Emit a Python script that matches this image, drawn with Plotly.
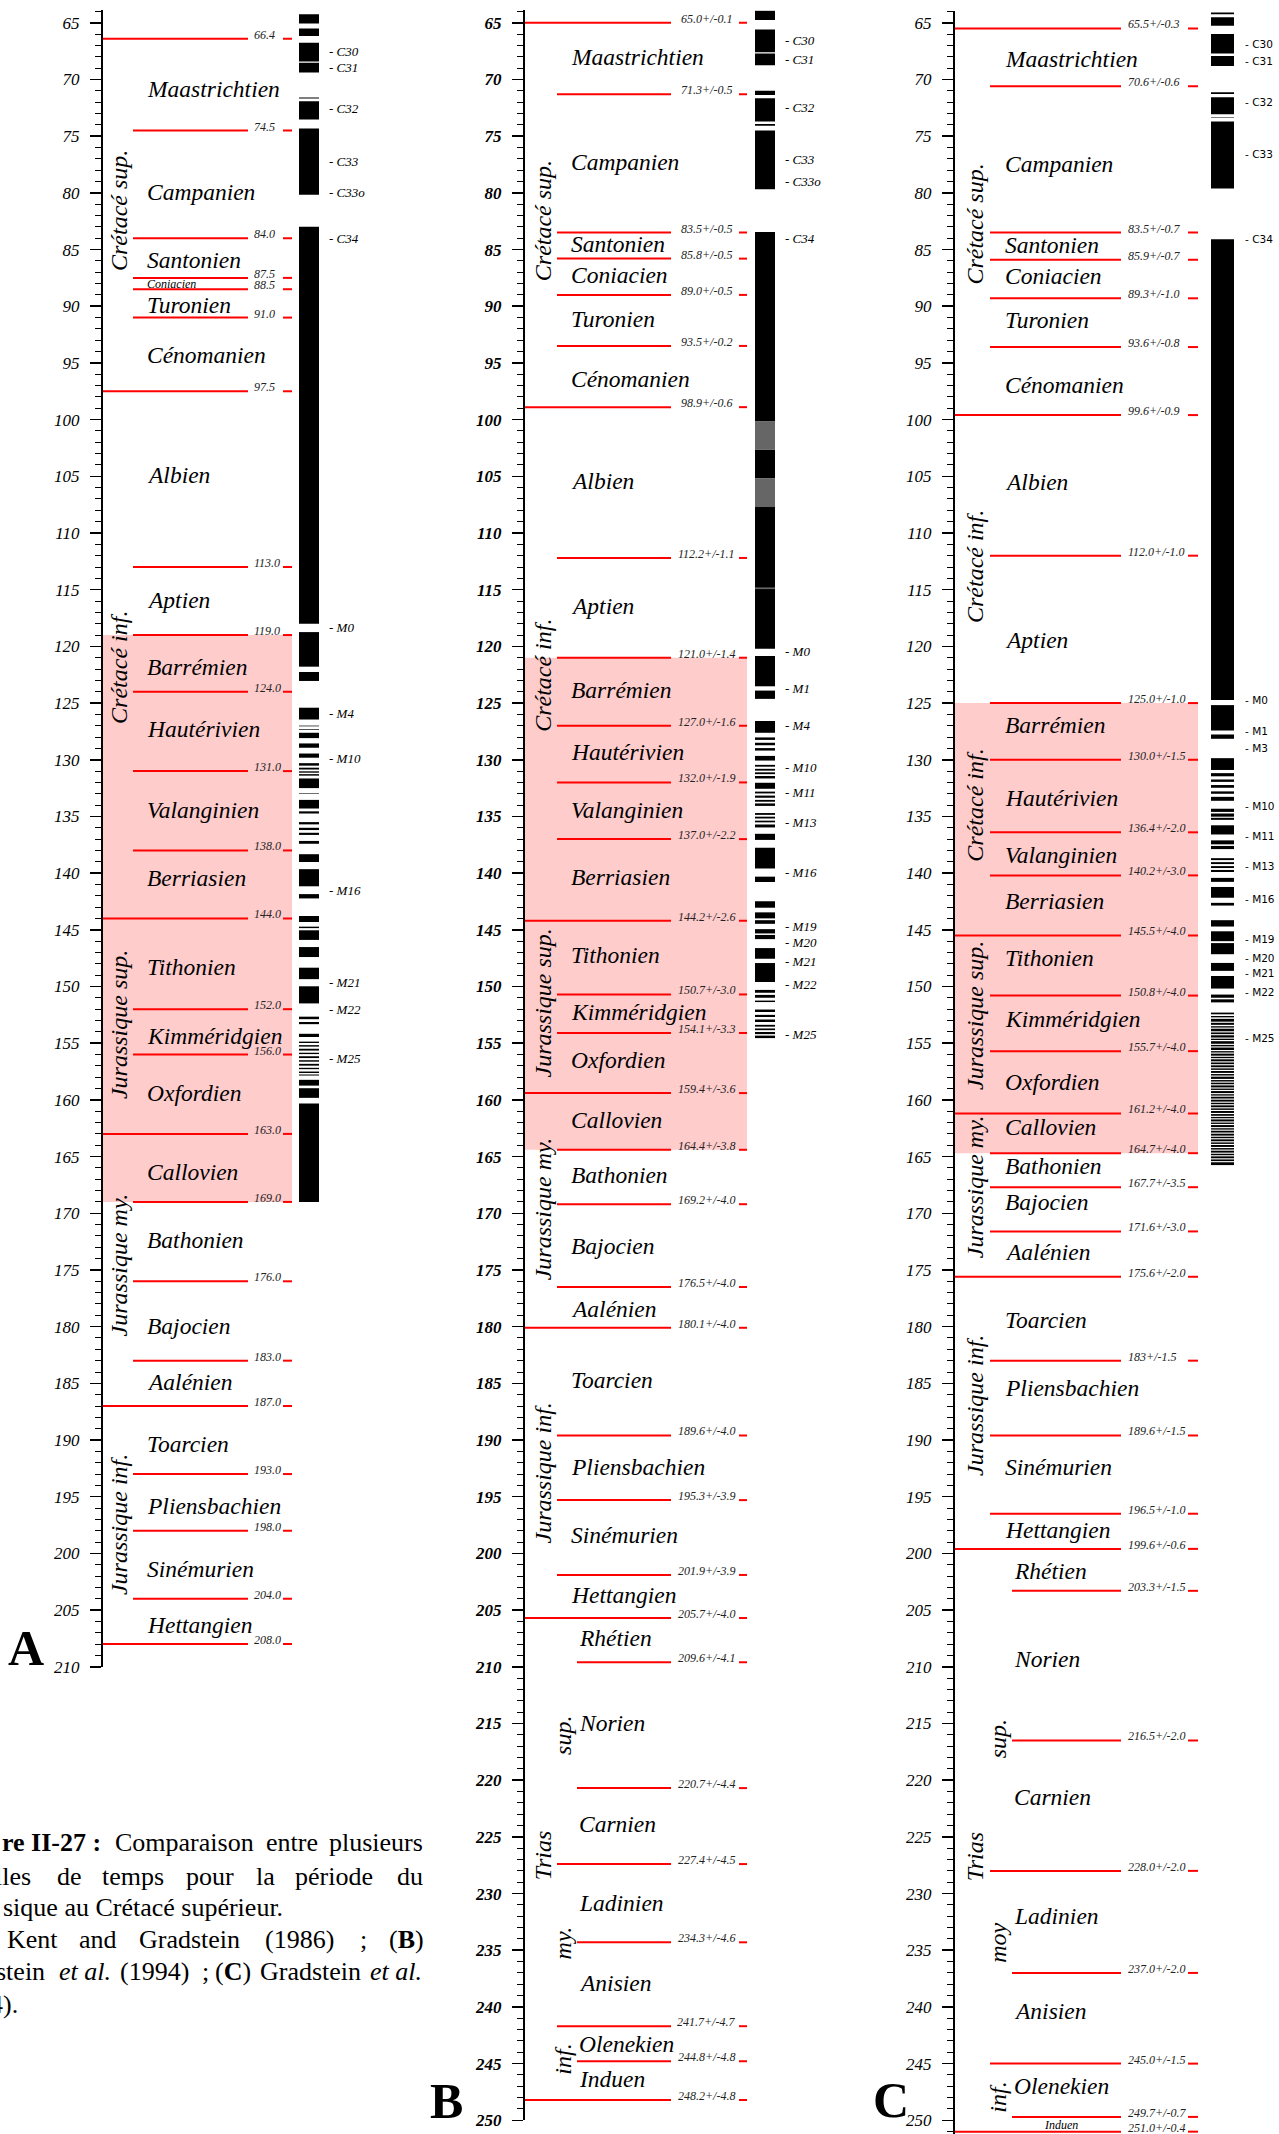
import plotly.graph_objects as go

W, H = 1279, 2134
SERIF = "Liberation Serif"
SANS = "DejaVu Sans"
PINK = "#ffcccc"
RED = "#ff0000"

# ================= Panel A : Kent & Gradstein (1986) =================
A_ages = [66.4, 74.5, 84.0, 87.5, 88.5, 91.0, 97.5, 113.0, 119.0, 124.0, 131.0, 138.0,
          144.0, 152.0, 156.0, 163.0, 169.0, 176.0, 183.0, 187.0, 193.0, 198.0, 204.0, 208.0]
A_labels = ["66.4", "74.5", "84.0", "87.5", "88.5", "91.0", "97.5", "113.0", "119.0", "124.0",
            "131.0", "138.0", "144.0", "152.0", "156.0", "163.0", "169.0", "176.0", "183.0",
            "187.0", "193.0", "198.0", "204.0", "208.0"]
A_epoch_ages = [66.4, 97.5, 144.0, 163.0, 187.0, 208.0]
A_right_ages = []
A_stages = ["Maastrichtien", "Campanien", "Santonien", "Coniacien", "Turonien", "Cénomanien",
            "Albien", "Aptien", "Barrémien", "Hautérivien", "Valanginien", "Berriasien",
            "Tithonien", "Kimméridgien", "Oxfordien", "Callovien", "Bathonien", "Bajocien",
            "Aalénien", "Toarcien", "Pliensbachien", "Sinémurien", "Hettangien"]
A_stage_mid = [70.8, 79.9, 85.9, 88.05, 89.9, 94.3, 104.9, 115.9, 121.8, 127.3, 134.4, 140.45,
               148.3, 154.35, 159.4, 166.4, 172.4, 179.9, 184.9, 190.35, 195.85, 201.4, 206.3]
A_series = ["Crétacé sup.", "Crétacé inf.", "Jurassique sup.", "Jurassique my.", "Jurassique inf."]
A_series_mid = [81.6, 121.9, 153.4, 174.6, 197.5]
A_subs, A_sub_mid = [], []
A_chrons = ["C30", "C31", "C32", "C33", "C33o", "C34", "M0", "M4", "M10", "M16", "M21", "M22", "M25"]
A_chron_age = [67.56, 68.9, 72.6, 77.2, 79.97, 84.0, 118.3, 125.9, 129.9, 141.5, 149.65, 152.05, 156.35]
A_norm_top = [64.25, 65.5, 66.77, 68.53, 71.59, 71.93, 74.33, 83.0, 118.74, 122.26, 125.41, 126.99,
              127.3, 127.62, 128.56, 129.45, 130.3, 130.7, 131.02, 131.27, 131.65, 132.97, 133.54,
              134.55, 135.5, 136.0, 136.44, 137.16, 138.33, 139.65, 141.85, 143.78, 144.72, 145.04,
              146.52, 148.34, 149.98, 152.66, 153.13, 154.17, 154.86, 155.17, 155.49, 155.84,
              156.15, 156.5, 156.82, 157.17, 157.5, 157.76, 158.23, 158.97, 160.32]
A_norm_base = [65.07, 66.17, 68.41, 69.38, 71.68, 73.54, 80.16, 118.0, 121.79, 123.05, 126.45, 127.05,
               127.36, 128.09, 128.94, 129.82, 130.52, 130.86, 131.14, 131.4, 132.5, 133.02, 134.3,
               134.74, 135.7, 136.2, 136.63, 137.41, 139.02, 141.16, 142.23, 144.31, 144.85, 145.89,
               147.4, 149.35, 151.49, 152.88, 153.32, 154.45, 154.98, 155.3, 155.65, 155.96,
               156.31, 156.63, 156.98, 157.29, 157.63, 157.85, 158.74, 159.82, 169.0]
A_gray_top, A_gray_base = [], []
A_band = [119.0, 169.0]

# ================= Panel B : Gradstein et al. (1994) =================
B_ages = [65.0, 71.3, 83.5, 85.8, 89.0, 93.5, 98.9, 112.2, 121.0, 127.0, 132.0, 137.0, 144.2,
          150.7, 154.1, 159.4, 164.4, 169.2, 176.5, 180.1, 189.6, 195.3, 201.9, 205.7, 209.6,
          220.7, 227.4, 234.3, 241.7, 244.8, 248.2]
B_err = [0.1, 0.5, 0.5, 0.5, 0.5, 0.2, 0.6, 1.1, 1.4, 1.6, 1.9, 2.2, 2.6, 3.0, 3.3, 3.6, 3.8,
         4.0, 4.0, 4.0, 4.0, 3.9, 3.9, 4.0, 4.1, 4.4, 4.5, 4.6, 4.7, 4.8, 4.8]
B_labels = [f"{a:.1f}+/-{e:.1f}" for a, e in zip(B_ages, B_err)]
B_epoch_ages = [65.0, 98.9, 144.2, 159.4, 180.1, 205.7, 248.2]
B_right_ages = [209.6, 220.7, 234.3, 244.8]
B_stages = ["Maastrichtien", "Campanien", "Santonien", "Coniacien", "Turonien", "Cénomanien",
            "Albien", "Aptien", "Barrémien", "Hautérivien", "Valanginien", "Berriasien",
            "Tithonien", "Kimméridgien", "Oxfordien", "Callovien", "Bathonien", "Bajocien",
            "Aalénien", "Toarcien", "Pliensbachien", "Sinémurien", "Hettangien", "Rhétien",
            "Norien", "Carnien", "Ladinien", "Anisien", "Olenekien", "Induen"]
B_stage_mid = [68.0, 77.3, 84.55, 87.25, 91.1, 96.4, 105.45, 116.45, 123.85, 129.35, 134.4, 140.35,
               147.25, 152.25, 156.5, 161.75, 166.65, 172.9, 178.4, 184.7, 192.35, 198.4, 203.65,
               207.45, 215.0, 223.85, 230.8, 237.9, 243.25, 246.4]
B_series = ["Crétacé sup.", "Crétacé inf.", "Jurassique sup.", "Jurassique my.", "Jurassique inf.", "Trias"]
B_series_mid = [82.5, 122.6, 151.5, 169.65, 192.95, 226.7]
B_subs = ["sup.", "my.", "inf."]
B_sub_mid = [216.1, 234.4, 244.65]
B_chrons = ["C30", "C31", "C32", "C33", "C33o", "C34", "M0", "M1", "M4", "M10", "M11", "M13",
            "M16", "M19", "M20", "M21", "M22", "M25"]
B_chron_age = [66.6, 68.2, 72.5, 77.1, 79.0, 84.0, 120.45, 123.7, 127.0, 130.7, 132.9, 135.55,
               139.9, 144.7, 146.15, 147.8, 149.85, 154.25]
B_norm_top = [63.93, 65.6, 67.71, 70.99, 71.65, 73.92, 74.49, 83.46, 102.67, 107.71, 120.85, 123.9,
              126.58, 128.03, 128.5, 128.97, 129.66, 130.45, 130.8, 131.11, 131.43, 132.03, 132.81,
              133.16, 133.54, 133.85, 134.7, 135.02, 135.37, 135.71, 136.53, 137.76, 140.31, 142.48,
              143.46, 144.15, 144.94, 145.45, 146.61, 147.93, 150.3, 150.74, 151.24, 152.03, 152.5,
              152.91, 153.38, 153.7, 154.01, 154.33]
B_norm_base = [64.75, 67.59, 68.75, 71.37, 73.7, 74.08, 79.68, 100.16, 105.19, 120.22, 123.52, 124.63,
               127.62, 128.25, 128.72, 129.19, 130.07, 130.61, 130.96, 131.27, 131.65, 132.56, 132.97,
               133.35, 133.7, 134.07, 134.86, 135.18, 135.52, 135.97, 137.07, 139.59, 140.78, 143.05,
               143.99, 144.47, 145.32, 145.82, 147.55, 149.6, 150.55, 150.99, 151.37, 152.25, 152.69,
               153.13, 153.54, 153.85, 154.2, 154.55]
B_gray_top = [100.16, 105.19, 114.8]
B_gray_base = [102.67, 107.71, 114.95]
B_band = [121.0, 164.4]

# ================= Panel C : Gradstein et al. (2004) =================
C_ages = [65.5, 70.6, 83.5, 85.9, 89.3, 93.6, 99.6, 112.0, 125.0, 130.0, 136.4, 140.2, 145.5,
          150.8, 155.7, 161.2, 164.7, 167.7, 171.6, 175.6, 183.0, 189.6, 196.5, 199.6, 203.3,
          216.5, 228.0, 237.0, 245.0, 249.7, 251.0]
C_labels = ["65.5+/-0.3", "70.6+/-0.6", "83.5+/-0.7", "85.9+/-0.7", "89.3+/-1.0", "93.6+/-0.8",
            "99.6+/-0.9", "112.0+/-1.0", "125.0+/-1.0", "130.0+/-1.5", "136.4+/-2.0", "140.2+/-3.0",
            "145.5+/-4.0", "150.8+/-4.0", "155.7+/-4.0", "161.2+/-4.0", "164.7+/-4.0", "167.7+/-3.5",
            "171.6+/-3.0", "175.6+/-2.0", "183+/-1.5", "189.6+/-1.5", "196.5+/-1.0", "199.6+/-0.6",
            "203.3+/-1.5", "216.5+/-2.0", "228.0+/-2.0", "237.0+/-2.0", "245.0+/-1.5", "249.7+/-0.7",
            "251.0+/-0.4"]
C_epoch_ages = [65.5, 99.6, 145.5, 161.2, 175.6, 199.6, 251.0]
C_right_ages = [203.3, 216.5, 237.0, 249.7]
C_stages = ["Maastrichtien", "Campanien", "Santonien", "Coniacien", "Turonien", "Cénomanien",
            "Albien", "Aptien", "Barrémien", "Hautérivien", "Valanginien", "Berriasien",
            "Tithonien", "Kimméridgien", "Oxfordien", "Callovien", "Bathonien", "Bajocien",
            "Aalénien", "Toarcien", "Pliensbachien", "Sinémurien", "Hettangien", "Rhétien",
            "Norien", "Carnien", "Ladinien", "Anisien", "Olenekien", "Induen"]
C_stage_mid = [68.15, 77.45, 84.6, 87.35, 91.2, 96.95, 105.5, 119.45, 126.95, 133.4, 138.4, 142.45,
               147.45, 152.9, 158.4, 162.4, 165.85, 169.0, 173.4, 179.4, 185.45, 192.4, 197.9,
               201.55, 209.35, 221.45, 232.0, 240.4, 247.0, 250.38]
C_series = ["Crétacé sup.", "Crétacé inf.", "Crétacé inf.", "Jurassique sup.", "Jurassique my.",
            "Jurassique inf.", "Trias"]
C_series_mid = [82.8, 113.0, 134.05, 152.6, 167.7, 187.0, 226.8]
C_subs = ["sup.", "moy", "inf."]
C_sub_mid = [216.4, 234.35, 248.0]
C_chrons = ["C30", "C31", "C32", "C33", "C34", "M0", "M1", "M3", "M10", "M11", "M13", "M16",
            "M19", "M20", "M21", "M22", "M25"]
C_chron_age = [66.83, 68.34, 72.0, 76.56, 84.03, 124.7, 127.5, 129.0, 134.1, 136.7, 139.4, 142.3,
               145.8, 147.5, 148.8, 150.5, 154.5]
C_norm_top = [64.09, 64.5, 65.98, 67.93, 71.12, 71.56, 73.32, 73.7, 84.09, 125.18, 127.77, 129.86,
              131.18, 131.74, 132.23, 132.79, 133.27, 134.32, 134.74, 135.12, 135.78, 137.11, 137.6,
              138.68, 139.03, 139.38, 139.72, 140.42, 141.22, 142.62, 144.15, 145.13, 146.17, 147.92,
              149.07, 150.71, 151.13, 152.3, 152.6, 152.85, 153.2, 153.5, 153.72, 154.05, 154.3,
              154.6, 154.82, 155.15, 155.38, 155.7, 155.92, 156.2, 156.42, 156.7, 156.95, 157.22,
              157.45, 157.72, 157.95, 158.25, 158.48, 158.72, 159.0, 159.22, 159.5, 159.72, 159.98,
              160.25, 160.48, 160.75, 160.98, 161.25, 161.5, 161.72, 162.0, 162.22, 162.5, 162.72,
              162.98, 163.25, 163.48, 163.75, 163.98, 164.25, 164.48, 164.75, 164.98, 165.25, 165.5]
C_norm_base = [64.25, 65.26, 67.71, 68.82, 71.27, 73.07, 73.38, 79.62, 124.73, 127.42, 128.15, 130.9,
               131.46, 131.95, 132.47, 133.0, 133.62, 134.6, 135.02, 135.3, 136.59, 137.46, 137.88,
               138.85, 139.2, 139.55, 139.9, 140.77, 142.17, 142.86, 144.71, 146.0, 147.15, 148.62,
               150.18, 150.99, 151.4, 152.45, 152.72, 153.1, 153.38, 153.62, 153.95, 154.2, 154.5,
               154.72, 155.05, 155.28, 155.6, 155.82, 156.1, 156.32, 156.6, 156.85, 157.12, 157.35,
               157.62, 157.85, 158.15, 158.38, 158.62, 158.9, 159.12, 159.4, 159.62, 159.88, 160.15,
               160.38, 160.65, 160.88, 161.15, 161.4, 161.62, 161.9, 162.12, 162.4, 162.62, 162.88,
               163.15, 163.38, 163.65, 163.88, 164.15, 164.38, 164.65, 164.88, 165.15, 165.4, 165.75]
C_gray_top, C_gray_base = [], []
C_band = [125.0, 164.7]

# ================= geometry =================
# vertical stretch compensating the ~0.45 % vertical squeeze observed in the photographed page
KY = 1.0045
H_FIG = 2144
Y0_PX, PX_PER_MA = 22.8, 11.34


def ypx(ma):
    return (Y0_PX + (ma - 65.0) * PX_PER_MA) * KY


def yfrac(ma):
    return min(1.0, max(0.0, 1.0 - ypx(ma) / H_FIG))


def ypaper(py):
    return 1.0 - py * KY / H_FIG


C_BOTTOM = 65.0 + (H_FIG / KY - Y0_PX) / PX_PER_MA

GEOM = {
    "A": dict(yname="y", axis=101, short=133, right=133, end=248, lab_x=252, lab_anchor="left",
              d0=283, d1=292, c0=299, c1=319, chron_x=327, stage_x=145, trias_x=145, vert_x=119,
              sub_x=139, top=63.9, bot=210.0, bold=False, chron_sans=False),
    "B": dict(yname="y2", axis=524, short=557, right=577, end=671, lab_x=706, lab_anchor="center",
              d0=739, d1=747, c0=755, c1=775, chron_x=783, stage_x=569, trias_x=577, vert_x=543,
              sub_x=563, top=63.9, bot=250.0, bold=True, chron_sans=False),
    "C": dict(yname="y3", axis=953, short=990, right=1012, end=1121, lab_x=1126, lab_anchor="left",
              d0=1188, d1=1198, c0=1211, c1=1234, chron_x=1243, stage_x=1003, trias_x=1012, vert_x=975,
              sub_x=998, top=64.0, bot=C_BOTTOM, bold=False, chron_sans=True),
}

PANELS = {
    "A": dict(ages=A_ages, labels=A_labels, epoch=A_epoch_ages, right=A_right_ages, stages=A_stages,
              stage_mid=A_stage_mid, series=A_series, series_mid=A_series_mid, subs=A_subs,
              sub_mid=A_sub_mid, chrons=A_chrons, chron_age=A_chron_age, ntop=A_norm_top,
              nbase=A_norm_base, gtop=A_gray_top, gbase=A_gray_base, band=A_band),
    "B": dict(ages=B_ages, labels=B_labels, epoch=B_epoch_ages, right=B_right_ages, stages=B_stages,
              stage_mid=B_stage_mid, series=B_series, series_mid=B_series_mid, subs=B_subs,
              sub_mid=B_sub_mid, chrons=B_chrons, chron_age=B_chron_age, ntop=B_norm_top,
              nbase=B_norm_base, gtop=B_gray_top, gbase=B_gray_base, band=B_band),
    "C": dict(ages=C_ages, labels=C_labels, epoch=C_epoch_ages, right=C_right_ages, stages=C_stages,
              stage_mid=C_stage_mid, series=C_series, series_mid=C_series_mid, subs=C_subs,
              sub_mid=C_sub_mid, chrons=C_chrons, chron_age=C_chron_age, ntop=C_norm_top,
              nbase=C_norm_base, gtop=C_gray_top, gbase=C_gray_base, band=C_band),
}

TRIAS_STAGES = {"Rhétien", "Norien", "Carnien", "Ladinien", "Anisien", "Olenekien", "Induen"}

fig = go.Figure()
annotations = []
shapes = []
layout_axes = {}

for key in ["A", "B", "C"]:
    g = GEOM[key]
    d = PANELS[key]
    yn = g["yname"]
    axname = "yaxis" if yn == "y" else "yaxis" + yn[1:]

    layout_axes[axname] = dict(
        domain=[yfrac(g["bot"]), yfrac(g["top"])], range=[g["bot"], g["top"]],
        anchor="free", position=g["axis"] / W, side="left",
        showline=True, linecolor="black", linewidth=2 if g["bold"] else 1.5,
        ticks="outside", ticklen=11, tickwidth=1.5, tickcolor="black",
        tick0=65, dtick=5,
        minor=dict(ticks="outside", tick0=65, dtick=1, ticklen=6, tickwidth=1, tickcolor="black"),
        tickfont=dict(family=SERIF, size=17, style="italic",
                      weight="bold" if g["bold"] else "normal", color="black"),
        ticklabelstandoff=7, showgrid=False, zeroline=False, fixedrange=True,
    )

    # pink band
    shapes.append(dict(type="rect", xref="x", yref=yn, x0=g["axis"], x1=g["d1"],
                       y0=d["band"][0], y1=d["band"][1], fillcolor=PINK,
                       line=dict(width=0), layer="below"))

    # magnetic polarity column
    cx = (g["c0"] + g["c1"]) / 2
    cw = g["c1"] - g["c0"]
    fig.add_trace(go.Bar(x=[cx] * len(d["ntop"]), y=[b - t for t, b in zip(d["ntop"], d["nbase"])],
                         base=d["ntop"], width=cw, marker=dict(color="black", line=dict(width=0)),
                         xaxis="x", yaxis=yn, hoverinfo="skip", showlegend=False))
    if d["gtop"]:
        fig.add_trace(go.Bar(x=[cx] * len(d["gtop"]), y=[b - t for t, b in zip(d["gtop"], d["gbase"])],
                             base=d["gtop"], width=cw, marker=dict(color="#666666", line=dict(width=0)),
                             xaxis="x", yaxis=yn, hoverinfo="skip", showlegend=False))

    # boundaries (red lines + dashes)
    xs, ys = [], []
    for a in d["ages"]:
        if a in d["epoch"]:
            x0 = g["axis"]
        elif a in d["right"]:
            x0 = g["right"]
        else:
            x0 = g["short"]
        xs += [x0, g["end"], None, g["d0"], g["d1"], None]
        ys += [a, a, None, a, a, None]
    fig.add_trace(go.Scatter(x=xs, y=ys, mode="lines", line=dict(color=RED, width=2),
                             xaxis="x", yaxis=yn, hoverinfo="skip", showlegend=False))

    # boundary value labels
    for a, lab in zip(d["ages"], d["labels"]):
        annotations.append(dict(x=g["lab_x"], y=a, xref="x", yref=yn, text=lab, showarrow=False,
                                xanchor=g["lab_anchor"], yanchor="middle", yshift=4,
                                font=dict(family=SERIF, size=12, style="italic", color="#222222")))

    # stage names
    for name, m in zip(d["stages"], d["stage_mid"]):
        size = 23.5
        x = g["trias_x"] if name in TRIAS_STAGES else g["stage_x"]
        if key == "A" and name == "Coniacien":
            size = 12
        if key == "C" and name == "Induen":
            size = 12
            x = 1042
        annotations.append(dict(x=x, y=m, xref="x", yref=yn, text=name, showarrow=False,
                                xanchor="left", yanchor="middle",
                                font=dict(family=SERIF, size=size, style="italic", color="black")))

    # series names (vertical)
    for name, m in zip(d["series"], d["series_mid"]):
        annotations.append(dict(x=g["vert_x"], y=m, xref="x", yref=yn, text=name, showarrow=False,
                                textangle=-90, xanchor="center", yanchor="middle",
                                font=dict(family=SERIF, size=24, style="italic", color="black")))
    for name, m in zip(d["subs"], d["sub_mid"]):
        annotations.append(dict(x=g["sub_x"], y=m, xref="x", yref=yn, text=name, showarrow=False,
                                textangle=-90, xanchor="center", yanchor="middle",
                                font=dict(family=SERIF, size=24, style="italic", color="black")))

    # chron labels
    for name, m in zip(d["chrons"], d["chron_age"]):
        if g["chron_sans"]:
            f = dict(family=SANS, size=10.5, color="black")
        else:
            f = dict(family=SERIF, size=13, style="italic", color="black")
        annotations.append(dict(x=g["chron_x"], y=m, xref="x", yref=yn, text="- " + name,
                                showarrow=False, xanchor="left", yanchor="middle", font=f))

# panel letters
for letter, px, py in [("A", 26, 1648), ("B", 446, 2101), ("C", 891, 2100)]:
    annotations.append(dict(x=px / W, y=ypaper(py), xref="paper", yref="paper", text=f"<b>{letter}</b>",
                            showarrow=False, xanchor="center", yanchor="middle",
                            font=dict(family=SERIF, size=50, color="black")))

# caption (cropped at the left edge, justified lines): (text, x, anchor)
caption = [
    (1843, [("<b>re II-27 :</b>", 103, "right"), ("Comparaison", 113, "left"), ("entre", 264, "left"),
            ("plusieurs", 327, "left")]),
    (1877, [("lles", 33, "right"), ("de", 55, "left"), ("temps", 100, "left"), ("pour", 184, "left"),
            ("la", 254, "left"), ("période", 293, "left"), ("du", 395, "left")]),
    (1908, [("sique au Crétacé supérieur.", 285, "right")]),
    (1940, [("Kent", 5, "left"), ("and", 77, "left"), ("Gradstein", 137, "left"), ("(1986)", 263, "left"),
            (";", 358, "left"), ("(<b>B</b>)", 387, "left")]),
    (1972, [("stein", 47, "right"), ("<i>et al.</i>", 57, "left"), ("(1994)", 118, "left"),
            (";", 200, "left"), ("(<b>C</b>)", 213, "left"), ("Gradstein", 258, "left"),
            ("<i>et al.</i>", 368, "left")]),
    (2005, [("4).", 20, "right")]),
]
for py, words in caption:
    for txt, px, anc in words:
        annotations.append(dict(x=px / W, y=ypaper(py), xref="paper", yref="paper", text=txt,
                                showarrow=False, xanchor=anc, yanchor="middle",
                                font=dict(family=SERIF, size=26, color="black")))

fig.update_layout(
    width=W, height=H_FIG, autosize=False,
    margin=dict(l=0, r=0, t=0, b=0, pad=0),
    paper_bgcolor="white", plot_bgcolor="rgba(0,0,0,0)",
    barmode="overlay", showlegend=False, hovermode=False,
    xaxis=dict(range=[0, W], domain=[0, 1], visible=False, fixedrange=True),
    annotations=annotations, shapes=shapes,
    **layout_axes,
)

PAGE_CSS_JS = (
    "var s=document.createElement('style');"
    "s.textContent='html,body{margin:0;padding:0;overflow:hidden;}';"
    "document.head.appendChild(s);"
)
fig.write_html("out.html", config={"displayModeBar": False, "staticPlot": True},
               post_script=PAGE_CSS_JS)
